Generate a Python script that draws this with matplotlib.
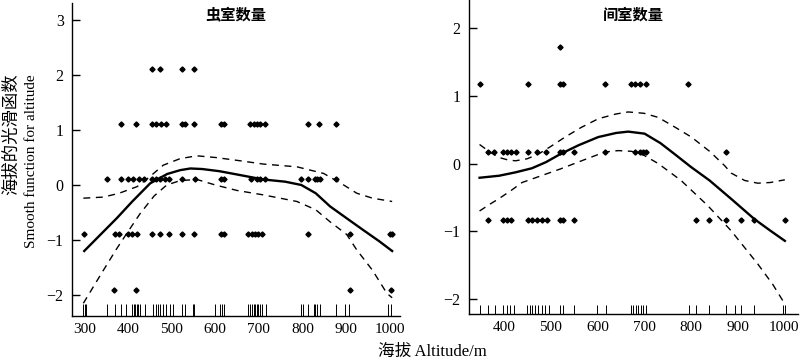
import numpy as np
import matplotlib
matplotlib.use("Agg")
import matplotlib.pyplot as plt
import matplotlib.transforms as mtransforms

plt.rcParams["font.family"] = ["Liberation Serif", "Noto Sans CJK SC"]
plt.rcParams["font.size"] = 11

# ---- left panel: 虫室数量 ----
fit1_x = [300, 340, 375, 410, 451, 490, 520, 543, 570, 610, 657, 710, 760, 797, 830, 863, 900, 939, 975, 1005]
fit1_y = [-1.2, -0.88, -0.6, -0.3, 0.03, 0.2, 0.27, 0.3, 0.29, 0.25, 0.18, 0.1, 0.06, 0.0, -0.15, -0.39, -0.6, -0.82, -1.02, -1.2]
up1_x = [298, 344, 380, 421, 450, 481, 520, 558, 600, 657, 710, 787, 848, 890, 924, 960, 1005]
up1_y = [-0.24, -0.22, -0.15, -0.03, 0.15, 0.36, 0.48, 0.53, 0.5, 0.44, 0.38, 0.33, 0.21, 0.02, -0.15, -0.24, -0.3]
lo1_x = [298, 340, 375, 400, 428, 460, 489, 520, 558, 600, 650, 710, 787, 830, 863, 901, 924, 960, 993, 1005]
lo1_y = [-2.15, -1.6, -1.15, -0.85, -0.52, -0.2, 0.0, 0.08, 0.1, 0.0, -0.1, -0.18, -0.3, -0.45, -0.67, -0.9, -1.18, -1.55, -1.97, -2.05]

res1_levels = [2.1, 1.1, 0.1, -0.9, -1.9]
res1_alt = [
    [455, 474, 524, 552],
    [385, 418, 455, 465, 475, 487, 524, 530, 552, 613, 620, 680, 688, 695, 703, 715, 813, 838, 877],
    [352, 385, 401, 411, 426, 436, 455, 465, 474, 485, 495, 524, 554, 613, 620, 681, 695, 702, 714,
     797, 813, 829, 834, 839, 877],
    [300, 371, 379, 401, 409, 420, 455, 474, 493, 524, 552, 613, 620, 676, 684, 691, 699, 707, 813,
     909, 999, 1005],
    [369, 419, 909, 1002],
]
rug1 = [298, 302, 305, 352, 371, 384, 396, 409, 413, 417, 421, 424, 428, 440, 457, 465, 470, 474,
        481, 488, 497, 503, 525, 530, 549, 552, 600, 611, 616, 621, 676, 680, 684, 688, 691, 695,
        699, 703, 707, 717, 797, 802, 813, 825, 829, 834, 839, 877, 897, 907, 996, 1002]

# ---- right panel: 间室数量 ----
fit2_x = [348, 390, 425, 460, 490, 521, 560, 602, 640, 666, 701, 735, 765, 800, 840, 886, 936, 970, 1001]
fit2_y = [-0.21, -0.18, -0.13, -0.07, 0.02, 0.14, 0.27, 0.39, 0.45, 0.47, 0.44, 0.3, 0.14, -0.05, -0.25, -0.52, -0.82, -0.99, -1.14]
up2_x = [348, 370, 389, 410, 425, 450, 474, 500, 531, 565, 602, 640, 666, 700, 730, 765, 801, 840, 872, 886, 915, 943, 970, 1001]
up2_y = [0.28, 0.17, 0.09, 0.05, 0.04, 0.07, 0.14, 0.25, 0.39, 0.53, 0.66, 0.73, 0.76, 0.74, 0.68, 0.54, 0.39, 0.18, -0.03, -0.14, -0.25, -0.29, -0.28, -0.24]
lo2_x = [348, 370, 389, 415, 439, 480, 521, 570, 616, 645, 673, 700, 730, 779, 836, 886, 943, 975, 1001]
lo2_y = [-0.7, -0.6, -0.52, -0.4, -0.28, -0.18, -0.08, 0.05, 0.17, 0.19, 0.18, 0.12, 0.0, -0.25, -0.62, -0.99, -1.48, -1.78, -2.07]

res2_levels = [1.72, 1.17, 0.17, -0.83]
res2_alt = [
    [520],
    [348, 451, 521, 526, 616, 672, 681, 691, 704, 794],
    [367, 379, 398, 407, 416, 425, 451, 471, 491, 521, 526, 549, 616, 681, 691, 698, 705, 875],
    [366, 398, 407, 416, 452, 460, 471, 481, 492, 521, 526, 550, 811, 838, 875, 907, 934, 1001],
]
rug2 = [348, 367, 382, 398, 407, 414, 421, 450, 455, 460, 467, 474, 481, 488, 497, 521, 526, 549,
        599, 618, 672, 677, 682, 687, 693, 698, 703, 795, 811, 838, 875, 894, 907, 934, 998, 1002]


def draw_panel(ax, fx, fy, ux, uy, lx, ly, levels, alts, rug, rug_h, title, title_y):
    ax.plot(fx, fy, color="black", lw=1.7)
    ax.plot(ux, uy, color="black", lw=1.0, ls=(0, (5, 4)))
    ax.plot(lx, ly, color="black", lw=1.0, ls=(0, (5, 4)))
    for lev, xs in zip(levels, alts):
        ax.plot(xs, [lev] * len(xs), ls="none", marker="D", ms=2.6, color="black")
    trans = mtransforms.blended_transform_factory(ax.transData, ax.transAxes)
    ax.vlines(rug, 0, rug_h, transform=trans, color="black", lw=0.7)
    for s in ["top", "right"]:
        ax.spines[s].set_visible(False)
    for s in ["left", "bottom"]:
        ax.spines[s].set_linewidth(1.0)
    ax.tick_params(axis="y", direction="in", length=6, width=1, labelsize=11.5, pad=6)
    ax.tick_params(axis="x", direction="in", length=0, labelsize=11, pad=5)
    ax.text(0.5, title_y, title, transform=ax.transAxes, ha="center", va="center",
            fontsize=11, fontweight="bold", family=["Noto Sans CJK SC"])


def main():
    fig = plt.figure(figsize=(8, 3.59), dpi=100)
    ax1 = fig.add_axes([0.09, 0.12, 0.41, 0.872])
    ax2 = fig.add_axes([0.586, 0.125, 0.412, 0.875])

    draw_panel(ax1, fit1_x, fit1_y, up1_x, up1_y, lo1_x, lo1_y,
               res1_levels, res1_alt, rug1, 0.038, "虫室数量", 0.965)
    ax1.set_xlim(272, 1023)
    ax1.set_ylim(-2.38, 3.31)
    ax1.set_xticks([300, 400, 500, 600, 700, 800, 900, 1000])
    ax1.set_yticks([-2, -1, 0, 1, 2, 3])

    draw_panel(ax2, fit2_x, fit2_y, up2_x, up2_y, lo2_x, lo2_y,
               res2_levels, res2_alt, rug2, 0.03, "间室数量", 0.954)
    ax2.set_xlim(325, 1030)
    ax2.set_ylim(-2.22, 2.41)
    ax2.set_xticks([400, 500, 600, 700, 800, 900, 1000])
    ax2.set_yticks([-2, -1, 0, 1, 2])

    # y label in two lines, top aligned
    fig.text(0.015, 0.796, "海拔的光滑函数", rotation=90, ha="center", va="top", fontsize=12.5)
    fig.text(0.04, 0.794, "Smooth function for altitude", rotation=90, ha="center", va="top", fontsize=11)
    fig.text(0.54, 0.02, "海拔 Altitude/m", ha="center", va="center", fontsize=12)

    fig.savefig("out.png", dpi=100)


if __name__ == "__main__":
    main()
